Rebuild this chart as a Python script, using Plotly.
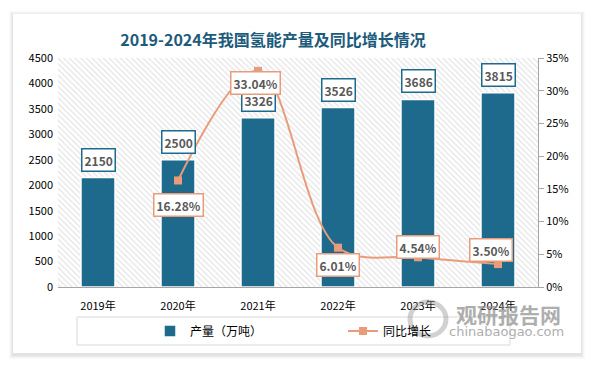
import plotly.graph_objects as go

years = ["2019年", "2020年", "2021年", "2022年", "2023年", "2024年"]
output = [2150, 2500, 3326, 3526, 3686, 3815]
growth_years = ["2020年", "2021年", "2022年", "2023年", "2024年"]
growth = [0.1628, 0.3304, 0.0601, 0.0454, 0.0350]
growth_text = ["16.28%", "33.04%", "6.01%", "4.54%", "3.50%"]
left_ticks = [0, 500, 1000, 1500, 2000, 2500, 3000, 3500, 4000, 4500]
right_ticks = [0, 0.05, 0.10, 0.15, 0.20, 0.25, 0.30, 0.35]

W, H = 594, 366
L, R, T, B = 58, 538, 58, 287

def px(x):
    return (x - L) / (R - L)

def py(y):
    return (B - y) / (B - T)

BAR = "#1d6a8c"
LINE = "#e89c7b"
FONT = "Noto Sans CJK SC"

fig = go.Figure()

# hatched plot background
fig.add_trace(go.Bar(
    x=[0.5], y=[1], width=[1], xaxis="x", yaxis="y",
    marker=dict(color="white", line=dict(width=0),
                pattern=dict(shape="\\", fgcolor="#c8c8c8", bgcolor="white", size=4, solidity=0.3)),
    showlegend=False, hoverinfo="skip"))

fig.add_trace(go.Bar(
    x=years, y=output, name="产量（万吨）", xaxis="x2", yaxis="y2",
    marker=dict(color=BAR, line=dict(color="white", width=1.5))))

fig.add_trace(go.Scatter(
    x=growth_years, y=growth, name="同比增长", xaxis="x2", yaxis="y3",
    mode="lines+markers", line=dict(color=LINE, width=2, shape="spline", smoothing=1),
    marker=dict(symbol="square", size=8, color=LINE)))

ann = []
for xv, yv in zip(years, output):
    ann.append(dict(x=xv, y=yv, xref="x2", yref="y2", text=f"<b>{yv}</b>", showarrow=False,
                    yshift=18, font=dict(size=12, color="#595959", family=FONT),
                    bgcolor="white", bordercolor=BAR, borderwidth=1.5, borderpad=2))
shifts = [(0, -25), (-3, -12), (0, -17), (0, 10), (-7, 14)]
for xv, yv, t, (dx, dy) in zip(growth_years, growth, growth_text, shifts):
    ann.append(dict(x=xv, y=yv, xref="x2", yref="y3", text=f"<b>{t}</b>", showarrow=False,
                    xshift=dx, yshift=dy, font=dict(size=12, color="#595959", family=FONT),
                    bgcolor="white", bordercolor=LINE, borderwidth=1.5, borderpad=2))

# watermark
ann.append(dict(x=px(508), y=py(314), xref="paper", yref="paper", text="<b>观研报告网</b>",
                xanchor="center", yanchor="middle",
                showarrow=False, font=dict(size=21, color="#8c8c8c", family=FONT), opacity=0.7))
ann.append(dict(x=px(506), y=py(331), xref="paper", yref="paper", text="chinabaogao.com",
                xanchor="center", yanchor="middle",
                showarrow=False, font=dict(size=13, color="#8c8c8c", family="DejaVu Sans"), opacity=0.7))

shapes = []
# card shadow layers
for i, a in enumerate([0.02, 0.025, 0.03, 0.035]):
    d = 4 - i
    shapes.append(dict(type="rect", xref="paper", yref="paper", layer="below",
                       x0=px(13 - d), x1=px(581 + d), y0=py(353 + d + 2), y1=py(14 - d + 1),
                       fillcolor=f"rgba(0,0,0,{a})", line=dict(width=0)))
shapes.append(dict(type="rect", xref="paper", yref="paper", layer="below",
                   x0=px(13), x1=px(581), y0=py(353), y1=py(14),
                   fillcolor="white", line=dict(width=0)))
# legend box
shapes.append(dict(type="rect", xref="paper", yref="paper", layer="above",
                   x0=px(77), x1=px(510), y0=py(345), y1=py(317),
                   line=dict(color="#d9d9d9", width=1)))
# watermark logo
shapes.append(dict(type="circle", xref="paper", yref="paper", layer="above",
                   x0=px(410), x1=px(446), y0=py(336), y1=py(302),
                   line=dict(color="rgba(140,140,140,0.4)", width=5)))

fig.update_layout(
    width=W, height=H,
    margin=dict(l=L, r=W - R, t=T, b=H - B, autoexpand=False),
    paper_bgcolor="white", plot_bgcolor="rgba(0,0,0,0)",
    bargap=0.575, barmode="overlay",
    font=dict(family=FONT, color="#000000", size=11),
    title=dict(text="<b>2019-2024年我国氢能产量及同比增长情况</b>", x=273 / W, xanchor="center",
               y=1 - 40 / H, yanchor="middle", font=dict(size=16, color="#1c5b7c", family=FONT)),
    xaxis=dict(range=[0, 1], visible=False, fixedrange=True),
    yaxis=dict(range=[0, 1], visible=False, fixedrange=True),
    xaxis2=dict(type="category", overlaying="x", anchor="y2", showline=True, linecolor="#a6a6a6",
                linewidth=1, ticks="", tickfont=dict(size=11, color="#000000"), showgrid=False,
                ticklabelstandoff=9, automargin=False),
    yaxis2=dict(overlaying="y", side="left", range=[0, 4500], tickvals=left_ticks, showgrid=False,
                showline=False, zeroline=False, tickfont=dict(size=11, color="#000000"),
                ticklabelstandoff=4, automargin=False),
    yaxis3=dict(overlaying="y", side="right", range=[0, 0.35], tickvals=right_ticks, tickformat=".0%",
                showgrid=False, showline=True, linecolor="#a6a6a6", ticks="outside", ticklen=5,
                tickcolor="#a6a6a6", zeroline=False, tickfont=dict(size=11, color="#000000"),
                automargin=False),
    legend=dict(orientation="h", x=px(150), xanchor="left", y=py(331), yanchor="middle",
                entrywidth=148, entrywidthmode="pixels", bgcolor="rgba(0,0,0,0)",
                font=dict(size=12, color="#000000", family=FONT), traceorder="normal"),
    annotations=ann, shapes=shapes,
)

fig.write_html("out.html", config={"displayModeBar": False},
               post_script="document.body.style.margin='0';document.body.style.overflow='hidden';")
